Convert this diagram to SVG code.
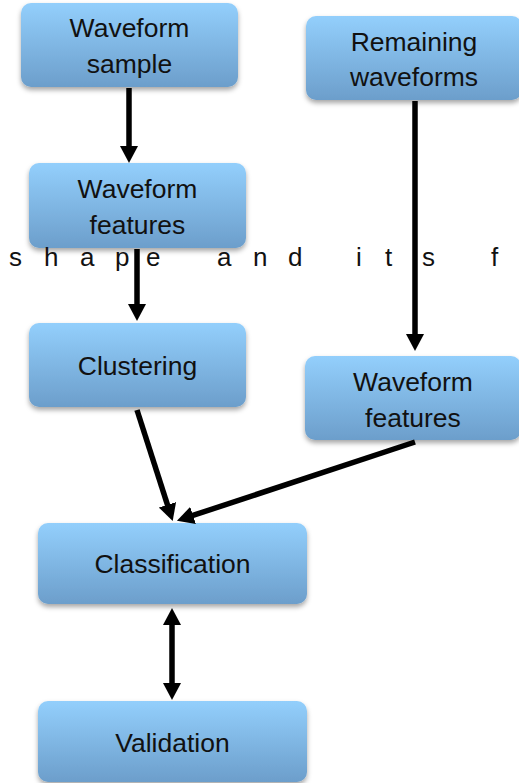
<svg xmlns="http://www.w3.org/2000/svg" width="519" height="783" viewBox="0 0 519 783">
<style>
.box{fill:url(#g);filter:url(#sh)}
.lbl{font-family:"Liberation Sans",Arial,sans-serif;font-size:26.5px;fill:#111;text-anchor:middle}
.bg{font-family:"Liberation Sans",Arial,sans-serif;font-size:26px;fill:#111}
.ar{stroke:#000;stroke-width:5.5;fill:none;marker-end:url(#ah)}
</style>
<defs>
<linearGradient id="g" x1="0" y1="0" x2="0" y2="1">
<stop offset="0" stop-color="#93cffc"/>
<stop offset="1" stop-color="#6c9ecb"/>
</linearGradient>
<filter id="sh" x="-10%" y="-10%" width="120%" height="130%">
<feDropShadow dx="0" dy="3" stdDeviation="2.5" flood-color="#000" flood-opacity="0.35"/>
</filter>
<marker id="ah" viewBox="0 -9 17 18" refX="1" refY="0" markerWidth="17" markerHeight="18" markerUnits="userSpaceOnUse" orient="auto-start-reverse">
<path d="M0,-9 L17,0 L0,9 z" fill="#000"/>
</marker>
</defs>
<rect width="519" height="783" fill="#fff"/>
<g id="n1"><rect class="box" x="21" y="3" width="217" height="84" rx="10"/><text class="lbl" x="129.5" y="37">Waveform</text><text class="lbl" x="129.5" y="73">sample</text></g>
<g id="n2"><rect class="box" x="306" y="16" width="216" height="84" rx="10"/><text class="lbl" x="414" y="51">Remaining</text><text class="lbl" x="414" y="86">waveforms</text></g>
<g id="n3"><rect class="box" x="29" y="163" width="217" height="85" rx="10"/><text class="lbl" x="137.5" y="198">Waveform</text><text class="lbl" x="137.5" y="234">features</text></g>
<g id="n4"><rect class="box" x="29" y="323" width="217" height="84" rx="10"/><text class="lbl" x="137.5" y="375">Clustering</text></g>
<g id="n5"><rect class="box" x="305" y="356" width="216" height="84" rx="10"/><text class="lbl" x="413" y="391">Waveform</text><text class="lbl" x="413" y="427">features</text></g>
<g id="n6"><rect class="box" x="38" y="523" width="269" height="81" rx="10"/><text class="lbl" x="172.5" y="573">Classification</text></g>
<g id="n7"><rect class="box" x="38" y="701" width="269" height="81" rx="10"/><text class="lbl" x="172.5" y="752">Validation</text></g>
<text class="bg" y="266"><tspan x="9">s</tspan><tspan x="44">h</tspan><tspan x="80">a</tspan><tspan x="115">p</tspan><tspan x="146">e</tspan><tspan x="217">a</tspan><tspan x="253">n</tspan><tspan x="288">d</tspan><tspan x="356">i</tspan><tspan x="385">t</tspan><tspan x="422">s</tspan><tspan x="491">f</tspan></text>
<g id="edges">
<line class="ar" x1="129" y1="88" x2="129" y2="147"/>
<line class="ar" x1="137" y1="249" x2="137" y2="305"/>
<line class="ar" x1="415" y1="101" x2="415" y2="335"/>
<line class="ar" x1="137" y1="410" x2="167.8" y2="505.8"/>
<line class="ar" x1="415" y1="442" x2="192.1" y2="515.7"/>
<line class="ar" x1="172" y1="624" x2="172" y2="684" style="marker-start:url(#ah)"/>
</g>
</svg>
